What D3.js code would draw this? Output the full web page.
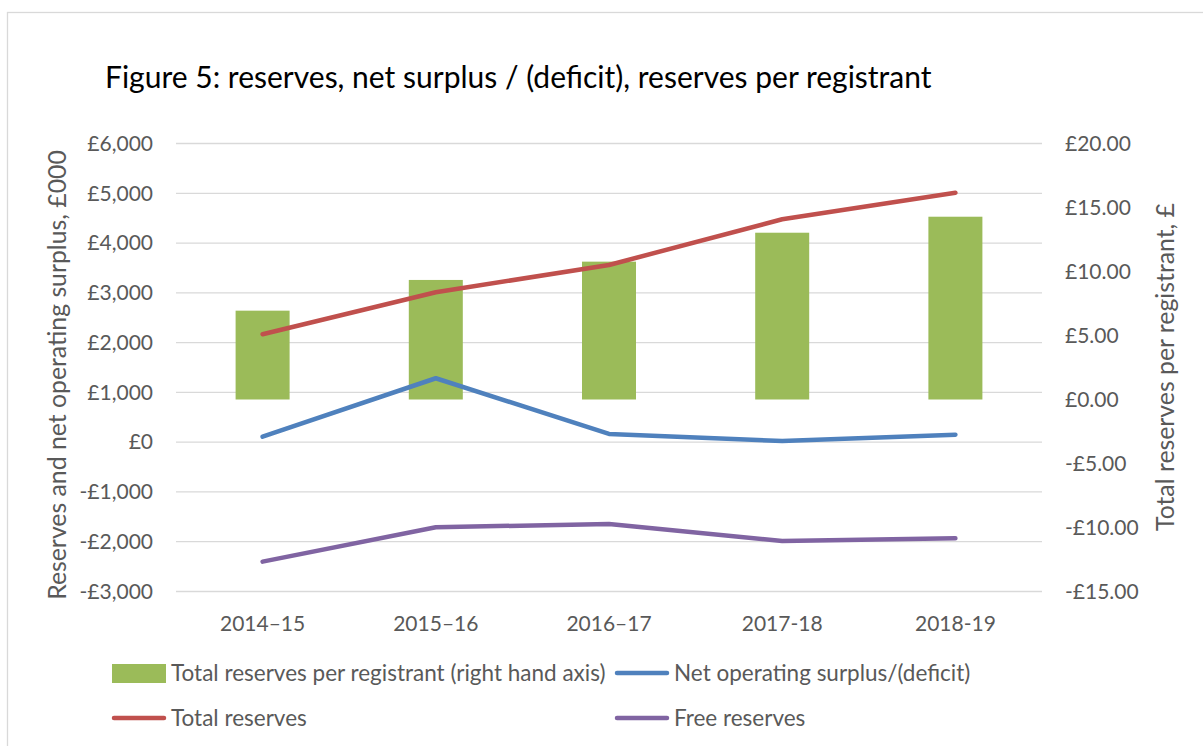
<!DOCTYPE html>
<html>
<head>
<meta charset="utf-8">
<script src="https://cdn.jsdelivr.net/npm/d3@7"></script>
<style>
  html, body { margin: 0; padding: 0; background: #fff; }
  svg { display: block; font-family: Lato, "Open Sans", sans-serif; }
</style>
</head>
<body>
<svg id="chart" width="1203" height="746"></svg>
<script>
const categories = ["2014–15", "2015–16", "2016–17", "2017-18", "2018-19"];
const perRegistrant = [6.94, 9.34, 10.77, 13.03, 14.28];
const totalReserves = [2168, 3011, 3560, 4478, 5012];
const netSurplus = [110, 1284, 165, 24, 151];
const freeReserves = [-2400, -1710, -1643, -1985, -1930];
const leftTicks = [-3000, -2000, -1000, 0, 1000, 2000, 3000, 4000, 5000, 6000];
const rightTicks = [-15, -10, -5, 0, 5, 10, 15, 20];

const svg = d3.select("#chart");
const W = 1203, H = 746;
const plot = { left: 176, right: 1042, top: 143.5, bottom: 591.5 };
const textColor = "#595959";

// chart border (top and left visible)
svg.append("rect").attr("x", 7.5).attr("y", 12.5).attr("width", W + 20).attr("height", H + 20)
  .attr("fill", "none").attr("stroke", "#D9D9D9").attr("stroke-width", 1.3);

const x = d3.scaleBand().domain(categories).range([plot.left, plot.right]).padding(0);
const yL = d3.scaleLinear().domain([-3000, 6000]).range([plot.bottom, plot.top]);
const yR = d3.scaleLinear().domain([-15, 20]).range([plot.bottom, plot.top]);

// title
svg.append("text").attr("x", 105).attr("y", 88)
  .attr("font-size", 30).attr("fill", "#000")
  .text("Figure 5: reserves, net surplus / (deficit), reserves per registrant");

// gridlines
svg.append("g").selectAll("line").data(leftTicks).join("line")
  .attr("x1", plot.left).attr("x2", plot.right)
  .attr("y1", d => yL(d)).attr("y2", d => yL(d))
  .attr("stroke", "#D9D9D9").attr("stroke-width", 1.3);

// left axis
const fmtL = d => (d < 0 ? "-£" : "£") + d3.format(",")(Math.abs(d));
const gL = svg.append("g").attr("transform", `translate(${plot.left - 23},0)`)
  .call(d3.axisLeft(yL).tickValues(leftTicks).tickFormat(fmtL).tickSize(0).tickPadding(0));
gL.select(".domain").remove();
gL.selectAll("text").attr("font-size", 21).attr("fill", textColor).attr("font-family", "Lato, sans-serif");

// right axis
const fmtR = d => (d < 0 ? "-£" : "£") + d3.format(".2f")(Math.abs(d));
const gR = svg.append("g").attr("transform", `translate(${plot.right + 23},0)`)
  .call(d3.axisRight(yR).tickValues(rightTicks).tickFormat(fmtR).tickSize(0).tickPadding(0));
gR.select(".domain").remove();
gR.selectAll("text").attr("font-size", 21).attr("fill", textColor).attr("font-family", "Lato, sans-serif");

// x axis labels
const gX = svg.append("g").attr("transform", `translate(0,${plot.bottom})`)
  .call(d3.axisBottom(x).tickSize(0).tickPadding(0));
gX.select(".domain").remove();
gX.selectAll("text").attr("dy", null).attr("y", 39.5)
  .attr("font-size", 21).attr("fill", textColor).attr("font-family", "Lato, sans-serif");

// axis titles
svg.append("text").attr("transform", `translate(66,375) rotate(-90)`)
  .attr("text-anchor", "middle").attr("font-size", 24.8).attr("fill", textColor)
  .text("Reserves and net operating surplus, £000");
svg.append("text").attr("transform", `translate(1174,367) rotate(-90)`)
  .attr("text-anchor", "middle").attr("font-size", 24.8).attr("fill", textColor)
  .text("Total reserves per registrant, £");

// bars
const barW = 54;
svg.append("g").selectAll("rect").data(perRegistrant).join("rect")
  .attr("x", (d, i) => x(categories[i]) + x.bandwidth() / 2 - barW / 2)
  .attr("width", barW)
  .attr("y", d => yR(Math.max(0, d)))
  .attr("height", d => Math.abs(yR(d) - yR(0)))
  .attr("fill", "#9BBB59");

// lines
const series = [
  { values: netSurplus, color: "#4F81BD" },
  { values: totalReserves, color: "#C0504D" },
  { values: freeReserves, color: "#8064A2" }
];
const line = d3.line().x((d, i) => x(categories[i]) + x.bandwidth() / 2).y(d => yL(d));
series.forEach(s => {
  svg.append("path").datum(s.values).attr("d", line)
    .attr("fill", "none").attr("stroke", s.color).attr("stroke-width", 4.5)
    .attr("stroke-linecap", "round").attr("stroke-linejoin", "round");
});

// legend
const legend = [
  { label: "Total reserves per registrant (right hand axis)", color: "#9BBB59", type: "rect", x: 112, y: 673 },
  { label: "Net operating surplus/(deficit)", color: "#4F81BD", type: "line", x: 615, y: 673 },
  { label: "Total reserves", color: "#C0504D", type: "line", x: 112, y: 718 },
  { label: "Free reserves", color: "#8064A2", type: "line", x: 615, y: 718 }
];
const lg = svg.append("g").selectAll("g").data(legend).join("g");
lg.each(function (d) {
  const g = d3.select(this);
  if (d.type === "rect") {
    g.append("rect").attr("x", d.x).attr("y", d.y - 9).attr("width", 54).attr("height", 19).attr("fill", d.color);
  } else {
    g.append("line").attr("x1", d.x + 2).attr("x2", d.x + 52).attr("y1", d.y).attr("y2", d.y)
      .attr("stroke", d.color).attr("stroke-width", 4.5).attr("stroke-linecap", "round");
  }
  g.append("text").attr("x", d.x + 59).attr("y", d.y + 8)
    .attr("font-size", 22.5).attr("fill", textColor).text(d.label);
});
</script>
</body>
</html>
